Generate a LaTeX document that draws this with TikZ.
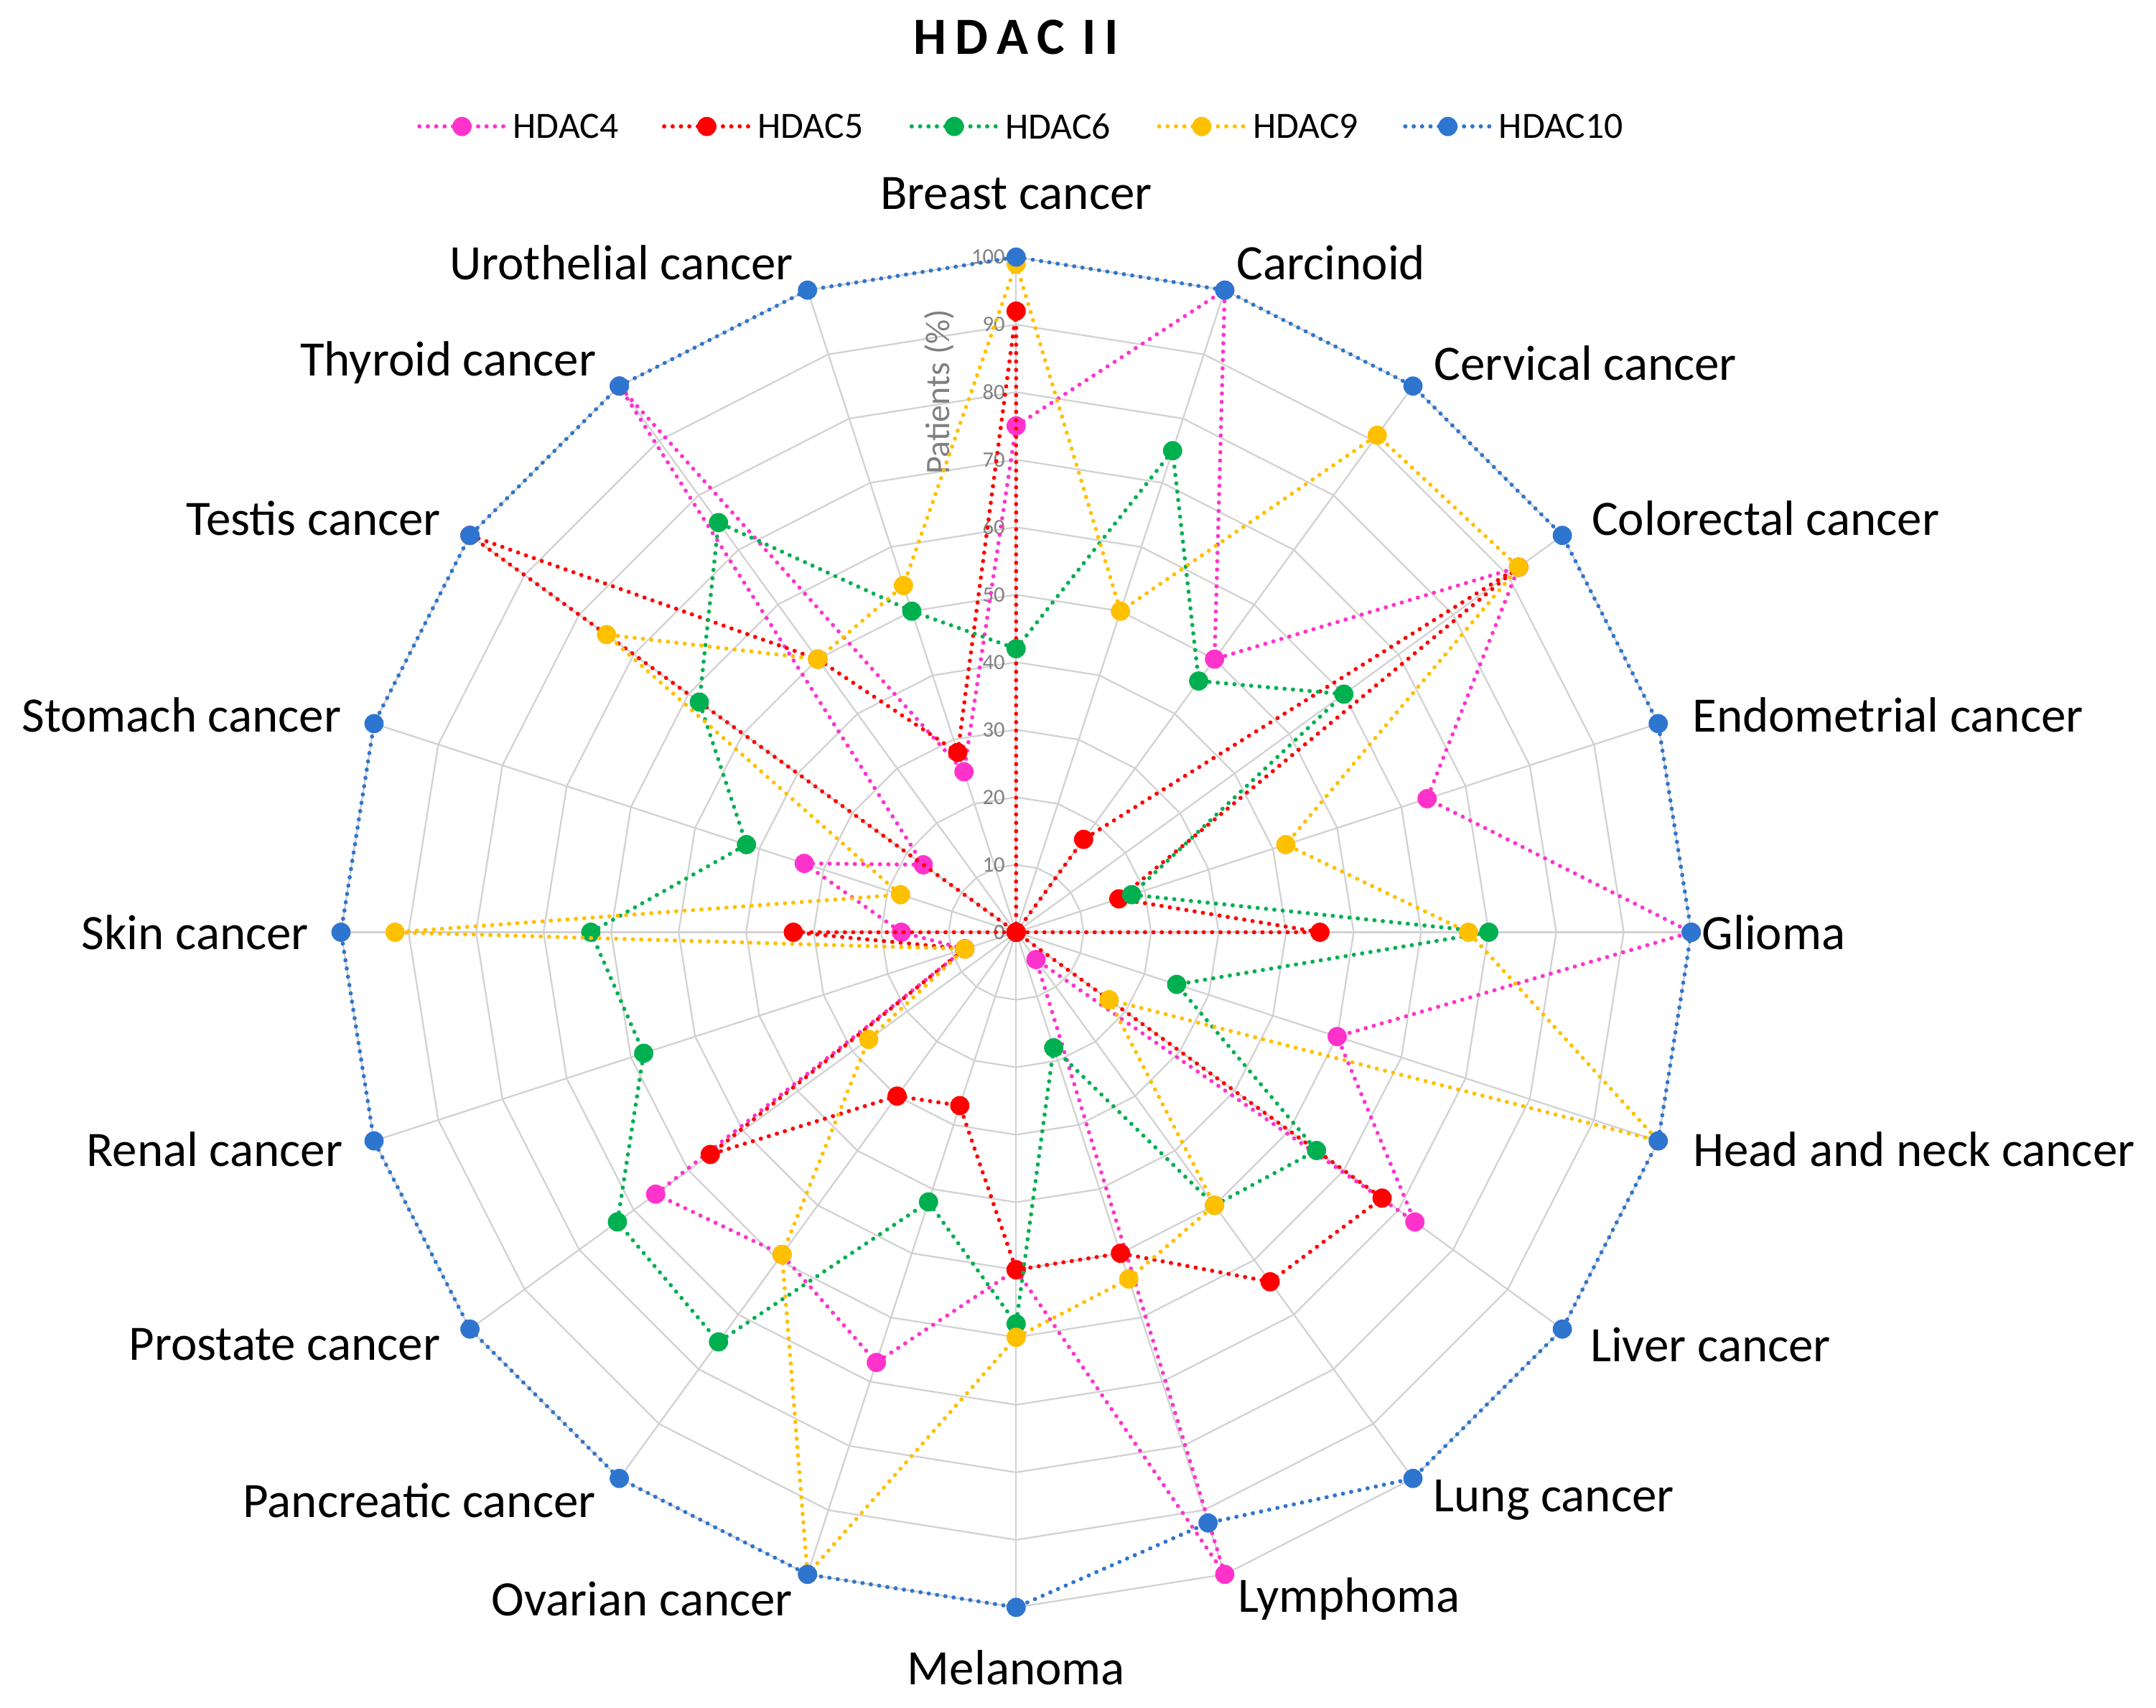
\documentclass[tikz,border=0pt]{standalone}
\usepackage{fontspec}
\setmainfont{Carlito}
\usetikzlibrary{calc}
\definecolor{cA}{HTML}{FF33CC}
\definecolor{cB}{HTML}{FF0000}
\definecolor{cC}{HTML}{00B050}
\definecolor{cD}{HTML}{FFC000}
\definecolor{cE}{HTML}{2E75CF}
\newcommand\myseries[2]{%
  \foreach \v [count=\i from 0] in {#2}{\coordinate (p#1\i) at ({90-18*\i}:\v*4.91);}
  \draw[ser,#1] (p#10) \foreach \i in {1,...,19}{-- (p#1\i)} -- cycle;
  \foreach \i in {0,...,19} \fill[#1] (p#1\i) circle (7);
}
\begin{document}
\begin{tikzpicture}[x=1pt,y=1pt,
  ser/.style={line width=3pt,dash pattern=on 0.1pt off 6pt,line cap=round},
  lab/.style={font=\fontsize{36}{40}\selectfont,inner sep=0pt},
  tick/.style={font=\fontsize{16}{18}\selectfont,text=gray,anchor=east,inner sep=0pt}]
\useasboundingbox (0,0) rectangle (1568,1242);
\node[font=\fontsize{38}{42}\selectfont\bfseries] (title) at (739,1215) {H\,D\,A\,C\,\,I\,I};
% legend
\foreach \c/\xa/\t [count=\k] in {cA/305/HDAC4,cB/483/HDAC5,cC/663/HDAC6,cD/843/HDAC9,cE/1022/HDAC10}{
  \coordinate (la\k) at (\xa,1150);
  \coordinate (lb\k) at (\xa+62,1150);
  \draw[ser,\c] (la\k) -- (lb\k);
  \fill[\c] ($(la\k)!0.5!(lb\k)$) circle (7);
  \node[anchor=west,font=\fontsize{27}{30}\selectfont,inner sep=0pt] (lt\k) at (\xa+68,1150) {\t};
}
\begin{scope}[shift={(739,564)}]
  \foreach \r in {10,20,...,100}{
    \draw[gray!35,line width=1.2pt] (90:\r*4.91) \foreach \i in {1,...,19}{-- ({90-18*\i}:\r*4.91)} -- cycle;
  }
  \foreach \i in {0,...,19} \draw[gray!35,line width=1.2pt] (0,0) -- ({90-18*\i}:491);
  \foreach \r in {0,10,...,100} \node[tick] at (-8,\r*4.91) {\r};
  \node[rotate=90,font=\fontsize{25}{27}\selectfont,text=gray] (ax) at (-56,393) {Patients (\%)};
  \myseries{cA}{75,100,50,92,64,100,50,73,5,100,50,67,59,66,8,17,33,17,100,25}
  \myseries{cB}{92,0,17,92,16,45,0,67,64,50,50,27,30,56,8,33,0,100,50,28}
  \myseries{cC}{42,75,46,60,18,70,25,55,50,18,58,42,75,73,58,63,42,58,75,50}
  \myseries{cD}{99,50,91,92,42,67,100,17,50,54,60,100,59,27,8,92,18,75,50,54}
  \myseries{cE}{100,100,100,100,100,100,100,100,100,92,100,100,100,100,100,100,100,100,100,100}
\end{scope}
\foreach \t/\x/\y [count=\k] in {Breast cancer/739/141,Carcinoid/968/191,Cervical cancer/1153/264,Colorectal cancer/1284/377,Endometrial cancer/1373/520,Glioma/1290/678,Head and neck cancer/1392/836,Liver cancer/1244/978,Lung cancer/1130/1091,Lymphoma/981/1163,Melanoma/739/1213,Ovarian cancer/467/1163,Pancreatic cancer/305/1091,Prostate cancer/207/978,Renal cancer/156/836,Skin cancer/142/678,Stomach cancer/132/520,Testis cancer/228/377,Thyroid cancer/326/264,Urothelial cancer/452/191}
  \node[lab] (L\k) at (\x,1242-\y) {\t};
\end{tikzpicture}
\end{document}
